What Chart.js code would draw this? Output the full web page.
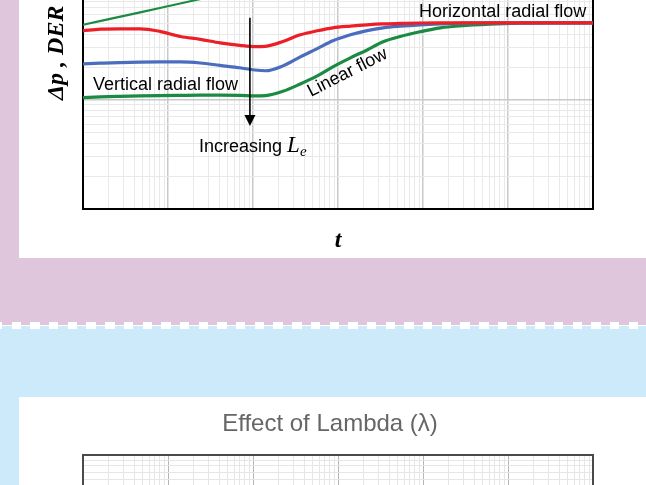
<!DOCTYPE html>
<html>
<head>
<meta charset="utf-8">
<script src="https://cdn.jsdelivr.net/npm/chart.js@4.4.1/dist/chart.umd.min.js"></script>
<style>
  html, body { margin: 0; padding: 0; }
  body { width: 646px; height: 485px; overflow: hidden; position: relative; background: #cdeafb; }
  .band-pink { position: absolute; left: 0; top: 0; width: 646px; height: 326px; background: #dfc6dc; }
  .card { position: absolute; background: #fff; overflow: hidden; }
  .card canvas { position: absolute; left: 0; }
  .divider-line { position: absolute; left: 0; top: 325px; width: 646px; height: 1px; background: #fff; }
  .divider-dash { position: absolute; left: -6.7px; top: 322px; width: 670px; height: 7px;
    background: repeating-linear-gradient(90deg, #fff 0 9.3px, transparent 9.3px 18.7px); }
</style>
</head>
<body>
<div class="band-pink"></div>
<div class="card" style="left:19px;top:0;width:627px;height:258px;">
  <canvas id="leChart" width="627" height="408" style="top:-150px;width:627px;height:408px;"></canvas>
</div>
<div class="divider-line"></div>
<div class="divider-dash"></div>
<div class="card" style="left:19px;top:397px;width:627px;height:88px;">
  <canvas id="lambdaChart" width="627" height="440" style="top:0;width:627px;height:440px;"></canvas>
</div>

<script>
// ---- Effect of Le: pressure-derivative curves (log-log) ----
const tDer = [0.01, 0.016, 0.027, 0.047, 0.08, 0.14, 0.24, 0.41, 0.7, 1.05, 1.4, 2.25, 3.6, 5.7,
              8.7, 14, 22, 34, 54, 92, 160, 270, 610, 1400, 3100, 10000];
const derShortLe = [4.30, 4.45, 4.48, 4.48, 4.25, 3.81, 3.59, 3.33, 3.16, 3.08, 3.10, 3.43, 3.95, 4.30,
                    4.58, 4.75, 4.88, 4.97, 5.02, 5.07, 5.09, 5.09, 5.09, 5.09, 5.09, 5.09];
const derMidLe   = [2.14, 2.17, 2.20, 2.22, 2.23, 2.23, 2.18, 2.07, 1.97, 1.88, 1.85, 2.05, 2.48, 2.95,
                    3.48, 3.95, 4.32, 4.58, 4.74, 4.88, 4.98, 5.04, 5.09, 5.09, 5.09, 5.09];
const derLongLe  = [1.05, 1.065, 1.077, 1.088, 1.095, 1.10, 1.104, 1.104, 1.10, 1.088, 1.095, 1.20, 1.40, 1.66,
                    2.01, 2.43, 2.87, 3.41, 3.81, 4.21, 4.58, 4.77, 4.95, 5.05, 5.09, 5.09];
// pressure change for the longest Le
const tPres = [0.01, 0.047, 0.22, 1.05, 10.6, 10000];
const presLongLe = [4.88, 6.35, 8.27, 10.65, 14.9, 29.4];

// axis ranges (time and Δp / DER)
const tRange = [0.01, 10000];
const pRangeLe = [0.1, 73];
const pRangeLambda = [0.1, 100];

const pairs = (xs, ys) => xs.map((x, i) => ({ x, y: ys[i] }));

// full 1..9 x 10^k tick set so every log grid line is drawn
function logTicks(lo, hi) {
  const out = [];
  for (let e = Math.floor(Math.log10(lo)); e <= Math.ceil(Math.log10(hi)); e++) {
    for (let m = 1; m < 10; m++) {
      const v = m * Math.pow(10, e);
      if (v >= lo * 0.9999 && v <= hi * 1.0001) out.push({ value: v, major: m === 1 });
    }
  }
  return out;
}

function gridFor(majorColor, minorColor, majorWidth) {
  return {
    drawTicks: false,
    color: c => (c.tick && c.tick.major) ? majorColor : minorColor,
    lineWidth: c => (c.tick && c.tick.major) ? majorWidth : 1
  };
}

const serifTitle = { family: 'Liberation Serif', size: 24, style: 'italic', weight: 'bold' };

function axes(xr, yr, majorColor, minorColor, majorWidth) {
  return {
    x: {
      type: 'logarithmic', min: xr[0], max: xr[1],
      afterBuildTicks: s => { s.ticks = logTicks(xr[0], xr[1]); },
      ticks: { display: false },
      grid: gridFor(majorColor, minorColor, majorWidth),
      border: { display: false },
      title: { display: true, text: 't', color: '#000', font: serifTitle, padding: { top: 17.6, bottom: 2.6 } }
    },
    y: {
      type: 'logarithmic', min: yr[0], max: yr[1],
      afterBuildTicks: s => { s.ticks = logTicks(yr[0], yr[1]); },
      ticks: { display: false },
      grid: gridFor(majorColor, minorColor, majorWidth),
      border: { display: false },
      title: { display: true, text: 'Δp , DER', color: '#000', font: serifTitle, padding: { top: 23.6, bottom: 11.6 } }
    }
  };
}

// plot frame drawn over the grid
const framePlugin = {
  id: 'frame',
  beforeDatasetsDraw(chart, args, opts) {
    const { ctx, chartArea: a } = chart;
    ctx.save();
    ctx.strokeStyle = opts.color || '#000';
    ctx.lineWidth = opts.width || 2;
    ctx.strokeRect(a.left, a.top, a.right - a.left, a.bottom - a.top);
    ctx.restore();
  }
};

// flow-regime notes and the Le arrow, anchored in data coordinates
const notesPlugin = {
  id: 'notes',
  afterDatasetsDraw(chart, args, opts) {
    const { ctx, scales: { x, y } } = chart;
    ctx.save();
    ctx.fillStyle = '#000';
    ctx.strokeStyle = '#000';
    (opts.arrows || []).forEach(a => {
      const px = x.getPixelForValue(a.t);
      const y1 = y.getPixelForValue(a.from);
      const y2 = y.getPixelForValue(a.to);
      ctx.lineWidth = 1.6;
      ctx.beginPath();
      ctx.moveTo(px, y1);
      ctx.lineTo(px, y2 - 10);
      ctx.stroke();
      ctx.beginPath();
      ctx.moveTo(px - 5.5, y2 - 11);
      ctx.lineTo(px + 5.5, y2 - 11);
      ctx.lineTo(px, y2);
      ctx.closePath();
      ctx.fill();
    });
    (opts.labels || []).forEach(l => {
      ctx.save();
      ctx.translate(x.getPixelForValue(l.t), y.getPixelForValue(l.v));
      if (l.angle) ctx.rotate(l.angle * Math.PI / 180);
      ctx.textAlign = 'left';
      ctx.textBaseline = 'alphabetic';
      let cx = 0;
      l.runs.forEach(r => {
        ctx.font = r.font;
        ctx.fillText(r.text, cx, r.dy || 0);
        cx += ctx.measureText(r.text).width + (r.gap || 0);
      });
      ctx.restore();
    });
    ctx.restore();
  }
};

const sans = '18px "Liberation Sans", Arial, sans-serif';

new Chart(document.getElementById('leChart'), {
  type: 'line',
  data: {
    datasets: [
      { label: 'Δp, long Le', data: pairs(tPres, presLongLe), borderColor: '#1b8a42', borderWidth: 2.2 },
      { label: 'DER, short Le', data: pairs(tDer, derShortLe), borderColor: '#ec1f27', borderWidth: 3.2 },
      { label: 'DER, medium Le', data: pairs(tDer, derMidLe), borderColor: '#4a6dbd', borderWidth: 3.2 },
      { label: 'DER, long Le', data: pairs(tDer, derLongLe), borderColor: '#1b8a42', borderWidth: 3.2 }
    ]
  },
  options: {
    responsive: false,
    animation: false,
    parsing: false,
    layout: { padding: { top: 46.6, right: 53, bottom: 0, left: 0 } },
    elements: { point: { radius: 0 }, line: { cubicInterpolationMode: 'monotone', fill: false } },
    scales: axes(tRange, pRangeLe, '#c9c9c9', '#e9e9e9', 1.5),
    plugins: {
      legend: { display: false },
      tooltip: { enabled: false },
      frame: { color: '#000', width: 2 },
      notes: {
        arrows: [{ t: 0.92, from: 5.65, to: 0.577 }],
        labels: [
          { t: 0.0131, v: 1.235, runs: [{ text: 'Vertical radial flow', font: sans }] },
          { t: 90, v: 5.74, runs: [{ text: 'Horizontal radial flow', font: sans }] },
          { t: 4.81, v: 1.065, angle: -27, runs: [{ text: 'Linear flow', font: sans }] },
          { t: 0.232, v: 0.336, runs: [
              { text: 'Increasing ', font: sans },
              { text: 'L', font: 'italic 23px "Liberation Serif", serif' },
              { text: 'e', font: 'italic 15px "Liberation Serif", serif', dy: 4 }
          ] }
        ]
      }
    }
  },
  plugins: [framePlugin, notesPlugin]
});

// ---- Effect of Lambda: same log-log frame ----
const lambdaScales = axes(tRange, pRangeLambda, '#b5b5b5', '#e6e6e6', 1);
// empty right-hand axis keeps the plot width while the title stays centred on the card
lambdaScales.yRight = {
  type: 'linear', position: 'right',
  ticks: { display: false },
  grid: { display: false, drawTicks: false },
  border: { display: false },
  title: { display: true, text: '', font: { size: 10 }, padding: { top: 36, bottom: 0 } }
};

new Chart(document.getElementById('lambdaChart'), {
  type: 'line',
  data: { datasets: [] },
  options: {
    responsive: false,
    animation: false,
    layout: { padding: { top: 0, right: 5, bottom: 0, left: 0 } },
    scales: lambdaScales,
    plugins: {
      legend: { display: false },
      tooltip: { enabled: false },
      frame: { color: '#4a4a4a', width: 2 },
      title: {
        display: true,
        text: 'Effect of Lambda (λ)',
        color: '#666',
        font: { family: '"Liberation Sans", Arial, sans-serif', size: 24, weight: 'normal' },
        padding: { top: 12.6, bottom: 16.6 }
      }
    }
  },
  plugins: [framePlugin]
});
</script>
</body>
</html>
